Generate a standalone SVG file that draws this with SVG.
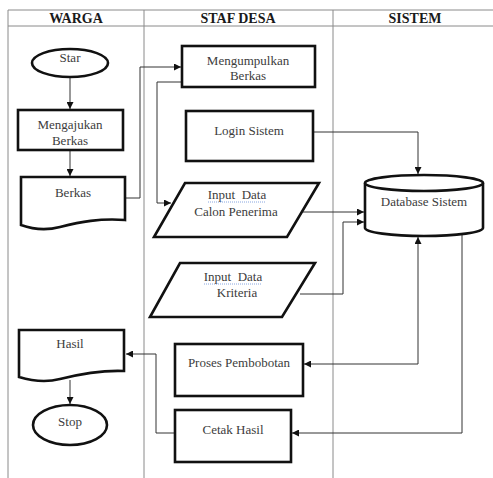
<svg xmlns="http://www.w3.org/2000/svg" width="493" height="478" viewBox="0 0 493 478">
<defs>
<style>
.lane{stroke:#8a8a8a;stroke-width:1;fill:none}
.nd{fill:#fff;stroke:#111;stroke-width:2.6}
.cn{fill:none;stroke:#333;stroke-width:1}
.t{font-family:"Liberation Serif","Times New Roman",serif;font-size:13px;fill:#3c3c3c;text-anchor:middle}
.h{font-family:"Liberation Serif","Times New Roman",serif;font-size:14px;font-weight:bold;fill:#1a1a1a;text-anchor:middle}
.sp{fill:none;stroke:#6a8fd8;stroke-width:0.8;stroke-dasharray:1 1}
</style>
<marker id="ah" viewBox="0 0 10 10" refX="10" refY="5" markerWidth="7" markerHeight="7" markerUnits="userSpaceOnUse" orient="auto">
<path d="M0,0 L10,5 L0,10 z" fill="#111"/>
</marker>
</defs>
<rect width="493" height="478" fill="#fff"/>
<g id="lanes">
<line class="lane" x1="8" y1="10" x2="493" y2="10"/>
<line class="lane" x1="8" y1="26" x2="493" y2="26"/>
<line class="lane" x1="8" y1="10" x2="8" y2="478"/>
<line class="lane" x1="144" y1="10" x2="144" y2="478"/>
<line class="lane" x1="333" y1="10" x2="333" y2="478"/>
<text class="h" x="76" y="23">WARGA</text>
<text class="h" x="238" y="23">STAF DESA</text>
<text class="h" x="415" y="23">SISTEM</text>
</g>
<g id="connectors">
<line class="cn" x1="70" y1="77" x2="70" y2="109" marker-end="url(#ah)"/>
<line class="cn" x1="70" y1="150" x2="70" y2="176" marker-end="url(#ah)"/>
<polyline class="cn" points="125,198 140,198 140,67 181,67" marker-end="url(#ah)"/>
<polyline class="cn" points="182,82 157,82 157,203 171,203" marker-end="url(#ah)"/>
<polyline class="cn" points="313,132 418,132 418,174" marker-end="url(#ah)"/>
<line class="cn" x1="303" y1="212" x2="364" y2="212" marker-end="url(#ah)"/>
<polyline class="cn" points="300,294 343,294 343,222 364,222" marker-end="url(#ah)"/>
<line class="cn" x1="418" y1="300" x2="418" y2="237" marker-end="url(#ah)"/>
<polyline class="cn" points="418,300 418,364 304,364" marker-end="url(#ah)"/>
<polyline class="cn" points="462,234 462,433 292,433" marker-end="url(#ah)"/>
<polyline class="cn" points="175,433 156,433 156,354 126,354" marker-end="url(#ah)"/>
<line class="cn" x1="70" y1="380" x2="70" y2="404" marker-end="url(#ah)"/>
</g>
<g id="star">
<ellipse class="nd" cx="70" cy="63" rx="38" ry="14"/>
<text class="t" x="70" y="62">Star</text>
</g>
<g id="mengajukan">
<rect class="nd" x="18" y="110" width="105" height="40"/>
<text class="t" x="70" y="129">Mengajukan</text>
<text class="t" x="70" y="145">Berkas</text>
</g>
<g id="berkas">
<path class="nd" d="M21,177 H125 V220 C100,218 80,222 60,227 C45,231 32,229 21,225 Z"/>
<text class="t" x="73" y="197">Berkas</text>
</g>
<g id="mengumpulkan">
<rect class="nd" x="182" y="46" width="133" height="41"/>
<text class="t" x="248" y="65">Mengumpulkan</text>
<text class="t" x="248" y="80">Berkas</text>
</g>
<g id="login">
<rect class="nd" x="186" y="111" width="127" height="50"/>
<text class="t" x="249" y="135">Login Sistem</text>
</g>
<g id="input-calon">
<polygon class="nd" points="185,183 319,183 287,237 154,237"/>
<text class="t" x="237" y="199" xml:space="preserve">Input  Data</text>
<path class="sp" d="M208,202 H266"/>
<text class="t" x="236" y="216">Calon Penerima</text>
</g>
<g id="input-kriteria">
<polygon class="nd" points="180,263 315,263 282,317 150,317"/>
<text class="t" x="233" y="281" xml:space="preserve">Input  Data</text>
<path class="sp" d="M204,284 H262"/>
<text class="t" x="237" y="297">Kriteria</text>
</g>
<g id="database">
<path class="nd" d="M365,183 A59,8 0 0 1 483,183 V228 A59,8 0 0 1 365,228 Z"/>
<path class="nd" d="M365,183 A59,8 0 0 0 483,183" fill="none"/>
<text class="t" x="424" y="206">Database Sistem</text>
</g>
<g id="proses">
<rect class="nd" x="175" y="344" width="128" height="52"/>
<text class="t" x="239" y="367">Proses Pembobotan</text>
</g>
<g id="cetak">
<rect class="nd" x="175" y="410" width="116" height="52"/>
<text class="t" x="233" y="434">Cetak Hasil</text>
</g>
<g id="hasil">
<path class="nd" d="M19,330 H124 V371 C100,370 80,374 60,379 C45,383 32,381 19,377 Z"/>
<text class="t" x="70" y="348">Hasil</text>
</g>
<g id="stop">
<ellipse class="nd" cx="70" cy="425" rx="37" ry="20"/>
<text class="t" x="70" y="426">Stop</text>
</g>
</svg>
